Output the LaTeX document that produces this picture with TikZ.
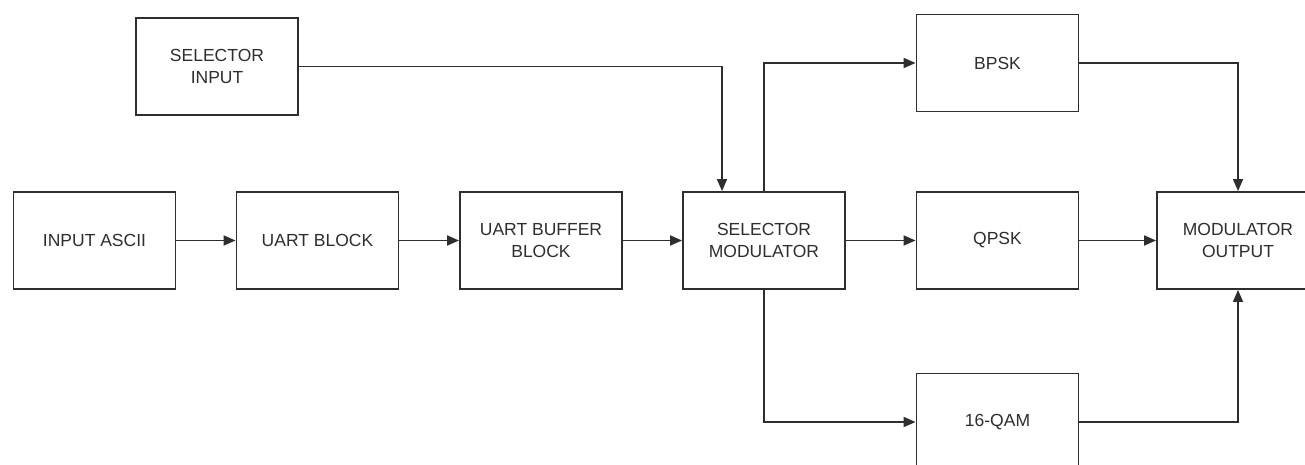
\documentclass[tikz,border=0pt]{standalone}
\usepackage{fontspec}
\setmainfont{Liberation Sans}
\usetikzlibrary{arrows.meta}
\definecolor{ink}{HTML}{2E2E2E}
\tikzset{
  blockbox/.style={draw=ink, line width=1.9pt, fill=white, minimum width=162pt,
    minimum height=97pt, inner sep=0pt, align=center, text=ink,
    font=\fontsize{17.5}{21.5}\selectfont},
  link/.style={draw=ink, line width=1.8pt, -{Triangle[length=12pt,width=10pt]}}
}
\begin{document}
\begin{tikzpicture}[x=1pt, y=-1pt]
  \useasboundingbox (0,0) rectangle (1305,465);
  \clip (0,0) rectangle (1305,465);
  \fill[white] (0,0) rectangle (1305,465);

  % blocks
  \node[blockbox] (selin) at (217,66.5) {SELECTOR\\INPUT};
  \node[blockbox] (ascii) at (94.5,240.5) {INPUT ASCII};
  \node[blockbox] (uart)  at (317.5,240.5) {UART BLOCK};
  \node[blockbox] (buf)   at (541,240.5) {UART BUFFER\\BLOCK};
  \node[blockbox] (sel)   at (764,240.5) {SELECTOR\\MODULATOR};
  \node[blockbox] (bpsk)  at (997.5,63) {BPSK};
  \node[blockbox] (qpsk)  at (997.5,240.5) {QPSK};
  \node[blockbox] (qam)   at (997.5,422) {16-QAM};
  \node[blockbox] (mod)   at (1238,240.5) {MODULATOR\\OUTPUT};

  % selector input enters the modulator selector left of centre
  \coordinate (selin-in) at ([xshift=-42pt]sel.north);

  % data path
  \draw[link] (ascii) -- (uart);
  \draw[link] (uart) -- (buf);
  \draw[link] (buf) -- (sel);
  \draw[link] (selin.east) -| (selin-in);

  % branches to the modulators
  \draw[link] (sel.north) |- (bpsk.west);
  \draw[link] (sel) -- (qpsk);
  \draw[link] (sel.south) |- (qam.west);

  % modulator outputs
  \draw[link] (bpsk.east) -| (mod.north);
  \draw[link] (qpsk) -- (mod);
  \draw[link] (qam.east) -| (mod.south);
\end{tikzpicture}
\end{document}
